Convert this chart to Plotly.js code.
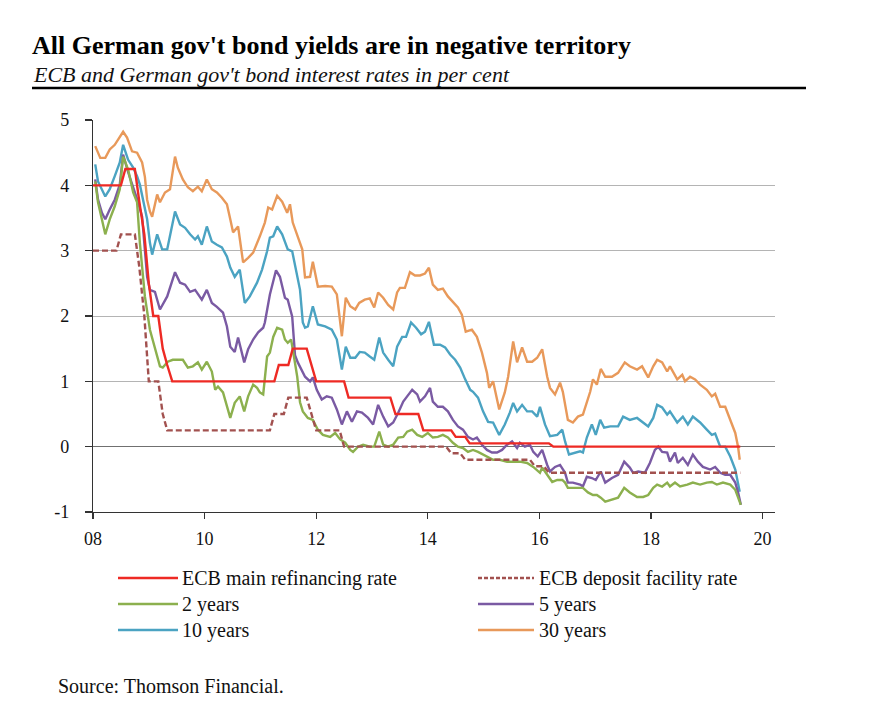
<!DOCTYPE html>
<html>
<head>
<meta charset="utf-8">
<script src="https://cdn.plot.ly/plotly-3.0.1.min.js"></script>
<style>
html,body{margin:0;padding:0;background:#fff;}
#chart{width:892px;height:717px;}
</style>
</head>
<body>
<div id="chart"></div>
<script>
// ---- Data (decimal years, per cent) ----
const refiDates = [2008.00,2008.50,2008.58,2008.75,2008.83,2008.92,2009.00,2009.08,2009.17,2009.25,2009.33,2009.42,2011.25,2011.33,2011.50,2011.58,2011.83,2011.92,2012.00,2012.50,2012.58,2013.33,2013.42,2013.83,2013.92,2014.42,2014.50,2014.67,2014.75,2016.17,2016.25,2019.60];
const refiVals  = [4.00,4.00,4.25,4.25,3.75,3.25,2.50,2.00,2.00,1.50,1.25,1.00,1.00,1.25,1.25,1.50,1.50,1.25,1.00,1.00,0.75,0.75,0.50,0.50,0.25,0.25,0.15,0.15,0.05,0.05,0.00,0.00];

const depoDates = [2008.00,2008.42,2008.50,2008.75,2008.83,2008.92,2009.00,2009.17,2009.25,2009.33,2011.17,2011.25,2011.42,2011.50,2011.83,2011.92,2012.00,2012.42,2012.50,2014.33,2014.42,2014.58,2014.67,2015.83,2015.92,2016.08,2016.17,2019.60];
const depoVals  = [3.00,3.00,3.25,3.25,2.75,2.00,1.00,1.00,0.50,0.25,0.25,0.50,0.50,0.75,0.75,0.50,0.25,0.25,0.00,0.00,-0.10,-0.10,-0.20,-0.20,-0.30,-0.30,-0.40,-0.40];

const y2Dates = [2008.04,2008.09,2008.22,2008.30,2008.39,2008.48,2008.54,2008.63,2008.72,2008.79,2008.84,2008.88,2008.93,2009.02,2009.11,2009.20,2009.25,2009.34,2009.43,2009.52,2009.61,2009.70,2009.79,2009.88,2009.95,2010.04,2010.13,2010.19,2010.24,2010.33,2010.40,2010.46,2010.54,2010.63,2010.71,2010.78,2010.87,2010.94,2010.99,2011.05,2011.12,2011.17,2011.23,2011.30,2011.39,2011.44,2011.49,2011.55,2011.58,2011.66,2011.71,2011.76,2011.85,2011.94,2012.03,2012.12,2012.25,2012.34,2012.43,2012.52,2012.61,2012.66,2012.75,2012.84,2012.96,2013.04,2013.13,2013.20,2013.29,2013.38,2013.47,2013.56,2013.63,2013.72,2013.81,2013.90,2014.00,2014.09,2014.18,2014.27,2014.36,2014.45,2014.54,2014.63,2014.72,2014.81,2014.90,2014.99,2015.08,2015.17,2015.29,2015.42,2015.53,2015.65,2015.78,2015.89,2016.01,2016.05,2016.14,2016.23,2016.32,2016.41,2016.46,2016.51,2016.64,2016.73,2016.78,2016.87,2016.96,2017.03,2017.10,2017.18,2017.30,2017.41,2017.52,2017.62,2017.75,2017.86,2017.95,2018.04,2018.11,2018.20,2018.29,2018.34,2018.43,2018.52,2018.65,2018.75,2018.88,2019.00,2019.09,2019.18,2019.29,2019.42,2019.51,2019.56,2019.61];
const y2Vals  = [4.06,3.74,3.25,3.48,3.68,3.94,4.44,4.24,3.89,3.74,3.12,2.71,2.30,1.79,1.49,1.23,1.21,1.30,1.33,1.33,1.33,1.21,1.23,1.29,1.18,1.30,1.15,0.87,0.92,0.83,0.61,0.44,0.67,0.77,0.54,0.77,0.95,0.90,0.83,0.80,1.38,1.44,1.68,1.82,1.79,1.64,1.59,1.64,1.49,1.07,0.68,0.54,0.44,0.41,0.26,0.18,0.15,0.21,0.11,0.06,-0.05,-0.08,0.00,0.03,0.00,0.00,0.23,0.03,0.00,0.03,0.14,0.15,0.23,0.26,0.18,0.15,0.21,0.14,0.15,0.18,0.14,0.06,0.00,-0.02,-0.08,-0.05,-0.08,-0.12,-0.17,-0.20,-0.20,-0.23,-0.23,-0.23,-0.25,-0.31,-0.40,-0.32,-0.43,-0.54,-0.51,-0.51,-0.55,-0.63,-0.63,-0.63,-0.63,-0.70,-0.74,-0.74,-0.78,-0.84,-0.81,-0.78,-0.63,-0.70,-0.77,-0.77,-0.74,-0.63,-0.58,-0.61,-0.55,-0.61,-0.55,-0.61,-0.58,-0.55,-0.58,-0.55,-0.54,-0.58,-0.55,-0.58,-0.66,-0.77,-0.89];

const y5Dates = [2008.04,2008.09,2008.16,2008.22,2008.30,2008.39,2008.48,2008.54,2008.63,2008.72,2008.81,2008.88,2008.93,2008.97,2009.02,2009.11,2009.20,2009.33,2009.47,2009.56,2009.65,2009.74,2009.83,2009.88,2009.95,2010.04,2010.13,2010.22,2010.33,2010.40,2010.46,2010.54,2010.60,2010.71,2010.78,2010.87,2010.96,2011.05,2011.08,2011.17,2011.28,2011.35,2011.44,2011.49,2011.57,2011.62,2011.67,2011.80,2011.89,2011.94,2012.01,2012.07,2012.10,2012.19,2012.28,2012.37,2012.46,2012.55,2012.64,2012.73,2012.82,2012.93,2013.02,2013.11,2013.20,2013.29,2013.38,2013.47,2013.56,2013.63,2013.72,2013.81,2013.86,2013.95,2014.04,2014.09,2014.18,2014.27,2014.36,2014.45,2014.54,2014.63,2014.72,2014.81,2014.88,2014.97,2015.06,2015.15,2015.24,2015.33,2015.42,2015.51,2015.60,2015.65,2015.74,2015.83,2015.89,2015.97,2016.05,2016.14,2016.19,2016.28,2016.37,2016.46,2016.51,2016.60,2016.73,2016.78,2016.85,2016.94,2017.01,2017.10,2017.18,2017.30,2017.41,2017.52,2017.62,2017.68,2017.77,2017.89,2017.98,2018.07,2018.13,2018.20,2018.29,2018.34,2018.43,2018.48,2018.57,2018.66,2018.75,2018.84,2018.93,2019.06,2019.15,2019.24,2019.33,2019.42,2019.51,2019.56,2019.61];
const y5Vals  = [4.09,3.78,3.58,3.48,3.63,3.78,4.01,4.47,4.20,3.98,3.74,3.52,3.02,2.60,2.40,2.37,2.10,2.30,2.67,2.51,2.48,2.37,2.40,2.33,2.25,2.40,2.20,2.14,2.05,1.84,1.53,1.45,1.67,1.29,1.49,1.64,1.75,1.82,1.90,2.33,2.70,2.60,2.28,2.25,1.99,1.40,1.29,1.07,1.00,1.06,0.87,0.77,0.72,0.77,0.75,0.57,0.34,0.54,0.38,0.54,0.52,0.44,0.34,0.64,0.46,0.31,0.37,0.52,0.69,0.77,0.87,0.80,0.69,0.77,0.90,0.69,0.61,0.61,0.54,0.41,0.31,0.26,0.15,0.11,0.14,0.03,-0.05,-0.09,-0.09,-0.05,0.03,0.08,-0.02,0.06,0.00,0.03,-0.08,-0.15,-0.05,-0.28,-0.38,-0.31,-0.28,-0.40,-0.55,-0.55,-0.58,-0.61,-0.46,-0.48,-0.51,-0.38,-0.55,-0.48,-0.43,-0.23,-0.32,-0.40,-0.38,-0.40,-0.25,-0.05,0.00,-0.08,-0.09,-0.23,-0.09,-0.25,-0.17,-0.28,-0.12,-0.23,-0.31,-0.35,-0.31,-0.40,-0.43,-0.43,-0.55,-0.70,-0.89];

const y10Dates = [2008.04,2008.09,2008.22,2008.30,2008.39,2008.48,2008.54,2008.63,2008.72,2008.79,2008.84,2008.90,2008.97,2009.02,2009.06,2009.15,2009.24,2009.33,2009.47,2009.56,2009.65,2009.74,2009.83,2009.88,2009.95,2010.04,2010.13,2010.22,2010.31,2010.40,2010.46,2010.54,2010.63,2010.72,2010.81,2010.94,2011.03,2011.12,2011.17,2011.23,2011.30,2011.39,2011.44,2011.49,2011.57,2011.62,2011.71,2011.76,2011.80,2011.85,2011.94,2012.03,2012.16,2012.28,2012.37,2012.46,2012.53,2012.61,2012.70,2012.78,2012.87,2012.96,2013.04,2013.13,2013.20,2013.29,2013.38,2013.45,2013.54,2013.61,2013.70,2013.79,2013.88,2013.95,2014.02,2014.11,2014.22,2014.31,2014.40,2014.49,2014.58,2014.67,2014.76,2014.81,2014.90,2014.99,2015.08,2015.17,2015.28,2015.38,2015.47,2015.53,2015.60,2015.69,2015.78,2015.87,2015.96,2016.01,2016.10,2016.19,2016.32,2016.41,2016.46,2016.53,2016.64,2016.73,2016.78,2016.85,2016.94,2017.01,2017.09,2017.16,2017.27,2017.41,2017.50,2017.62,2017.75,2017.84,2017.95,2018.04,2018.11,2018.20,2018.29,2018.34,2018.47,2018.57,2018.66,2018.75,2018.88,2019.00,2019.09,2019.15,2019.24,2019.33,2019.42,2019.51,2019.59];
const y10Vals  = [4.32,4.06,3.83,3.94,4.14,4.35,4.62,4.39,4.27,4.14,4.01,3.78,3.48,3.12,2.94,3.25,3.02,3.02,3.60,3.40,3.35,3.25,3.17,3.22,3.09,3.37,3.14,3.09,3.05,2.91,2.74,2.60,2.71,2.20,2.30,2.51,2.71,2.99,3.20,3.22,3.37,3.25,3.14,3.02,2.99,2.76,2.40,1.90,1.82,1.84,2.15,1.87,1.84,1.79,1.64,1.18,1.53,1.36,1.36,1.45,1.44,1.38,1.33,1.67,1.44,1.33,1.23,1.53,1.68,1.68,1.90,1.82,1.72,1.76,1.91,1.56,1.56,1.52,1.41,1.33,1.21,1.03,0.87,0.84,0.75,0.54,0.38,0.37,0.18,0.34,0.52,0.67,0.54,0.64,0.54,0.54,0.46,0.61,0.34,0.16,0.18,0.26,0.08,-0.12,-0.09,-0.07,-0.09,0.14,0.34,0.18,0.41,0.29,0.31,0.31,0.46,0.41,0.44,0.38,0.31,0.44,0.64,0.60,0.49,0.54,0.37,0.46,0.34,0.46,0.37,0.26,0.18,0.20,0.00,0.00,-0.15,-0.35,-0.69];

const y30Dates = [2008.04,2008.13,2008.22,2008.30,2008.39,2008.54,2008.61,2008.70,2008.79,2008.88,2008.93,2008.97,2009.02,2009.06,2009.15,2009.20,2009.29,2009.38,2009.47,2009.52,2009.61,2009.70,2009.79,2009.88,2009.95,2010.04,2010.13,2010.22,2010.31,2010.40,2010.46,2010.51,2010.60,2010.69,2010.78,2010.87,2010.99,2011.08,2011.14,2011.21,2011.30,2011.39,2011.48,2011.53,2011.58,2011.67,2011.75,2011.80,2011.89,2011.94,2012.03,2012.16,2012.28,2012.37,2012.46,2012.53,2012.61,2012.70,2012.77,2012.87,2012.96,2013.04,2013.11,2013.20,2013.29,2013.38,2013.45,2013.50,2013.59,2013.68,2013.77,2013.86,2013.95,2014.02,2014.09,2014.18,2014.27,2014.36,2014.45,2014.54,2014.61,2014.68,2014.79,2014.88,2014.97,2015.06,2015.10,2015.17,2015.28,2015.38,2015.44,2015.53,2015.60,2015.69,2015.78,2015.87,2015.96,2016.05,2016.14,2016.19,2016.28,2016.37,2016.42,2016.51,2016.60,2016.69,2016.78,2016.91,2016.96,2017.03,2017.10,2017.18,2017.30,2017.41,2017.53,2017.62,2017.75,2017.84,2017.95,2018.04,2018.11,2018.20,2018.29,2018.34,2018.47,2018.56,2018.61,2018.70,2018.79,2018.88,2019.00,2019.09,2019.15,2019.24,2019.33,2019.42,2019.51,2019.56,2019.59];
const y30Vals  = [4.60,4.42,4.42,4.55,4.62,4.82,4.73,4.52,4.50,4.35,4.13,3.78,3.60,3.52,3.86,3.74,3.89,3.94,4.44,4.27,4.09,3.97,3.91,3.98,3.91,4.09,3.94,3.89,3.81,3.71,3.48,3.28,3.37,2.82,2.89,2.97,3.22,3.43,3.66,3.63,3.84,3.75,3.58,3.71,3.43,3.22,3.02,2.59,2.60,2.83,2.45,2.46,2.45,2.33,1.69,2.28,2.15,2.10,2.20,2.25,2.27,2.13,2.36,2.28,2.17,2.10,2.36,2.43,2.43,2.67,2.62,2.62,2.65,2.74,2.48,2.40,2.42,2.30,2.22,2.13,2.02,1.76,1.79,1.68,1.44,1.13,0.90,1.00,0.57,0.83,1.07,1.61,1.29,1.52,1.30,1.30,1.36,1.49,1.07,0.90,0.80,0.98,0.84,0.41,0.37,0.46,0.49,0.84,1.03,0.95,1.19,1.07,1.07,1.13,1.29,1.23,1.18,1.23,1.06,1.23,1.33,1.29,1.15,1.23,1.03,1.10,1.00,1.07,1.03,0.95,0.87,0.77,0.81,0.61,0.61,0.41,0.21,0.00,-0.20];

const xTickVals = [2008,2010,2012,2014,2016,2018,2020];
const xTickText = ['08','10','12','14','16','18','20'];
const yTickVals = [-1,0,1,2,3,4,5];
const yTickText = ['-1','0','1','2','3','4','5'];

const seriesNames = ['ECB main refinancing rate','ECB deposit facility rate','2 years','5 years','10 years','30 years'];
const seriesColors = ['#ee2a24','#a2514f','#8cb04e','#7a5aa3','#4ba3c2','#e8995a'];

// ---- Layout constants (pixels) ----
const W = 892, H = 717;
const L = 93, R = 775, T = 120, B = 512;
const pw = R - L, ph = B - T;
const px = x => (x - L) / pw;
const py = y => (B - y) / ph;
const serif = 'Liberation Serif, Times New Roman, serif';

function line(xs, ys, i, dash) {
  return {
    x: xs, y: ys, type: 'scatter', mode: 'lines', name: seriesNames[i],
    line: {color: seriesColors[i], width: 2.4, dash: dash || 'solid'},
    showlegend: false, hoverinfo: 'skip'
  };
}

const traces = [
  line(y30Dates, y30Vals, 5),
  line(y10Dates, y10Vals, 4),
  line(y5Dates, y5Vals, 3),
  line(y2Dates, y2Vals, 2),
  line(depoDates, depoVals, 1, '6px,3px'),
  line(refiDates, refiVals, 0)
];

// legend (manual, two columns)
const legCols = [{x0: 118, x1: 178, tx: 180}, {x0: 478, x1: 534, tx: 537}];
const legRows = [578, 604, 630];
const shapes = [
  {type: 'line', xref: 'paper', yref: 'paper', x0: px(32), x1: px(806), y0: py(88), y1: py(88),
   line: {color: '#000', width: 2.5}}
];
const annotations = [
  {xref: 'paper', yref: 'paper', x: px(31), y: py(74), xanchor: 'left', yanchor: 'middle',
   text: "<i>ECB and German gov't bond interest rates in per cent</i>", showarrow: false,
   font: {family: serif, size: 22, color: '#111'}},
  {xref: 'paper', yref: 'paper', x: px(56), y: py(686), xanchor: 'left', yanchor: 'middle',
   text: 'Source: Thomson Financial.', showarrow: false,
   font: {family: serif, size: 20, color: '#111'}}
];
seriesNames.forEach((nm, i) => {
  const c = legCols[i % 2], r = legRows[Math.floor(i / 2)];
  shapes.push({type: 'line', xref: 'paper', yref: 'paper', x0: px(c.x0), x1: px(c.x1), y0: py(r), y1: py(r),
    line: {color: seriesColors[i], width: 2.6, dash: i === 1 ? '4px,2px' : 'solid'}});
  annotations.push({xref: 'paper', yref: 'paper', x: px(c.tx), y: py(r), xanchor: 'left', yanchor: 'middle',
    text: nm, showarrow: false, font: {family: serif, size: 20, color: '#111'}});
});

const layout = {
  width: W, height: H,
  paper_bgcolor: '#fff', plot_bgcolor: '#fff',
  margin: {l: L, r: W - R, t: T, b: H - B, pad: 0},
  showlegend: false,
  title: {
    text: "<b>All German gov't bond yields are in negative territory</b>",
    xref: 'container', yref: 'container', x: 32 / W, xanchor: 'left', y: 1 - 45 / H, yanchor: 'middle',
    font: {family: serif, size: 26, color: '#000'}
  },
  xaxis: {
    range: [2008, 2008 + pw / 55.8], tickvals: xTickVals, ticktext: xTickText,
    showgrid: false, zeroline: false, showline: true, linecolor: '#333', linewidth: 1.2,
    ticks: 'outside', ticklen: 6, tickcolor: '#333', tickwidth: 1.2, ticklabelstandoff: 4,
    tickfont: {family: serif, size: 18, color: '#111'}, fixedrange: true
  },
  yaxis: {
    range: [-1, 5], tickvals: yTickVals, ticktext: yTickText,
    showgrid: true, gridcolor: '#b4b4b4', gridwidth: 1,
    zeroline: true, zerolinecolor: '#707070', zerolinewidth: 1.2,
    showline: true, linecolor: '#333', linewidth: 1.2,
    ticks: 'outside', ticklen: 7, tickcolor: '#333', tickwidth: 1.2, ticklabelstandoff: 12,
    tickfont: {family: serif, size: 18, color: '#111'}, fixedrange: true
  },
  shapes: shapes,
  annotations: annotations
};

Plotly.newPlot('chart', traces, layout, {displayModeBar: false, staticPlot: true});
</script>
</body>
</html>
